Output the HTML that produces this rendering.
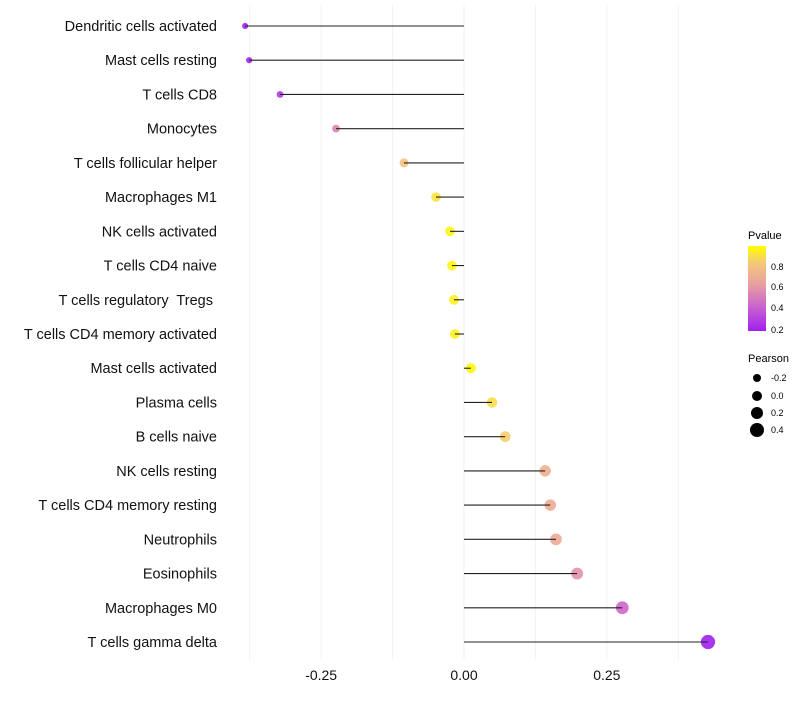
<!DOCTYPE html>
<html><head><meta charset="utf-8"><style>
body{margin:0;background:#fff;font-family:"Liberation Sans",sans-serif}
svg text{font-family:"Liberation Sans",sans-serif;white-space:pre}
</style></head><body>
<svg width="800" height="700" id="c">
<g id="grid"></g>
<g id="marks"></g>
<g id="labels"></g>
<g id="xt"></g>
<g>
<defs><linearGradient id="pg" x1="0" y1="1" x2="0" y2="0">
<stop offset="0" stop-color="#a020f0"/><stop offset="0.3" stop-color="#cc66cc"/><stop offset="0.55" stop-color="#e8a0a0"/><stop offset="0.8" stop-color="#f5c878"/><stop offset="1" stop-color="#ffff00"/></linearGradient></defs>
<text x="748" y="239" font-size="11">Pvalue</text>
<rect x="748" y="246" width="18" height="85" fill="url(#pg)"/>
<text x="771" y="270" font-size="9">0.8</text>
<text x="771" y="290" font-size="9">0.6</text>
<text x="771" y="311" font-size="9">0.4</text>
<text x="771" y="333" font-size="9">0.2</text>
</g>
<g>
<text x="748" y="362" font-size="11">Pearson</text>
<circle cx="757" cy="378" r="4" fill="#000"/><text x="771" y="381" font-size="9">-0.2</text>
<circle cx="757" cy="396" r="5" fill="#000"/><text x="771" y="399" font-size="9">0.0</text>
<circle cx="757" cy="413" r="6" fill="#000"/><text x="771" y="416" font-size="9">0.2</text>
<circle cx="757" cy="430" r="7" fill="#000"/><text x="771" y="433" font-size="9">0.4</text>
</g>
</svg>
<script>
const categories=["Dendritic cells activated","Mast cells resting","T cells CD8","Monocytes","T cells follicular helper","Macrophages M1","NK cells activated","T cells CD4 naive","T cells regulatory  Tregs ","T cells CD4 memory activated","Mast cells activated","Plasma cells","B cells naive","NK cells resting","T cells CD4 memory resting","Neutrophils","Eosinophils","Macrophages M0","T cells gamma delta"];
const pearson=[-0.383,-0.376,-0.322,-0.224,-0.105,-0.049,-0.0245,-0.021,-0.0175,-0.016,0.012,0.049,0.072,0.142,0.151,0.161,0.198,0.277,0.427];
const pvalue=[0.15,0.16,0.25,0.5,0.78,0.9,0.96,0.97,0.95,0.95,0.97,0.88,0.82,0.68,0.66,0.65,0.55,0.4,0.15];
const xTicks=[-0.25,0,0.25];
const xTickLabels=["-0.25","0.00","0.25"];
const NS="http://www.w3.org/2000/svg";
const x=v=>464+v*571.4;
const y=i=>26+i*(616/18);
const stops=[[0.15,[160,32,240]],[0.4,[204,102,204]],[0.6,[232,160,160]],[0.8,[245,200,120]],[1.0,[255,255,0]]];
function col(p){p=Math.max(0.15,Math.min(1,p));for(let k=1;k<stops.length;k++){if(p<=stops[k][0]){const a=stops[k-1],b=stops[k],t=(p-a[0])/(b[0]-a[0]);return "rgb("+a[1].map((c,j)=>Math.round(c+(b[1][j]-c)*t)).join(",")+")";}}return "rgb(255,255,0)";}
function mk(t,a,parent){const e=document.createElementNS(NS,t);for(const k in a)e.setAttribute(k,a[k]);document.getElementById(parent).appendChild(e);return e;}
[-0.375,-0.25,-0.125,0,0.125,0.25,0.375].forEach(v=>{const l=mk("line",{x1:x(v),x2:x(v),y1:5,y2:660,stroke:"#f2f2f2","stroke-width":1},"grid");

});
categories.forEach((c,i)=>{
const r=Math.max(1.8,5+5*pearson[i]);
const d=mk("circle",{cx:x(pearson[i]),cy:y(i),r:r,fill:col(pvalue[i]),"fill-opacity":0.9},"marks");


const s=mk("line",{x1:x(0),x2:x(pearson[i]),y1:y(i),y2:y(i),stroke:"#222","stroke-width":1.1},"marks");


const t=mk("text",{x:217,y:y(i)+5,"text-anchor":"end","font-size":14.5,fill:"#111"},"labels");
t.textContent=c;


});
xTicks.forEach((v,i)=>{const t=mk("text",{x:x(v),y:680,"text-anchor":"middle","font-size":14,fill:"#111"},"xt");
t.textContent=xTickLabels[i];

});
</script>
</body></html>
